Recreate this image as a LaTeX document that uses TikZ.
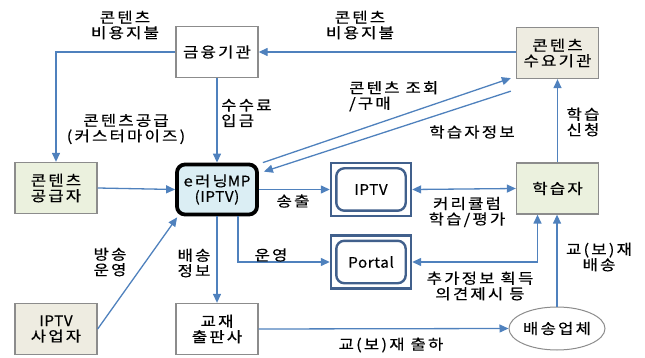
\documentclass[tikz,border=0pt]{standalone}
\usepackage{fontspec}
\setmainfont[LetterSpace=15,FakeBold=0.4,FakeStretch=1.15]{Noto Sans CJK KR}
\newfontfamily\latinf[LetterSpace=4,FakeBold=0.4,FakeStretch=1.05]{Noto Sans CJK KR}
\usetikzlibrary{arrows.meta,shapes.geometric}
\definecolor{lineblue}{HTML}{4F81BD}
\definecolor{boxgray}{HTML}{8C8C8C}
\definecolor{beige}{HTML}{EEECE1}
\definecolor{greenish}{HTML}{EBF1DE}
\definecolor{mpblue}{HTML}{DBEEF4}
\definecolor{frameblue}{HTML}{41608C}
\newcommand{\fs}{\fontsize{14.5}{15.5}\selectfont}
\begin{document}
\begin{tikzpicture}[x=1pt,y=-1pt,
  box/.style={draw=boxgray, line width=1.3pt, minimum width=82pt, minimum height=51pt, align=center, inner sep=1pt, font=\fs},
  mpbox/.style={draw=black, line width=3.8pt, rounded corners=8pt, fill=mpblue, minimum width=80pt, minimum height=50pt, align=center, inner sep=1pt, font=\fs},
  frame/.style={draw=frameblue, line width=2.4pt, minimum width=80pt, minimum height=53pt, font=\fs, inner sep=1pt},
  inframe/.style={draw=frameblue, line width=2.4pt, rounded corners=8pt, fill=white},
  lab/.style={align=center, font=\fs, inner sep=0pt},
  conn/.style={draw=lineblue, line width=1.3pt},
  arr/.style={conn, -{Triangle[length=9pt,width=8pt]}},
  barr/.style={conn, {Triangle[length=9pt,width=8pt]}-{Triangle[length=9pt,width=8pt]}},
]
\useasboundingbox (0,0) rectangle (645,358);

% nodes
\node[box, fill=white] (fin) at (217,52) {금융기관};
\node[box, fill=beige] (dem) at (557.5,53) {콘텐츠\\수요기관};
\node[box, fill=greenish] (sup) at (56,188) {콘텐츠\\공급자};
\node[mpbox] (mp) at (217,189.5) {e러닝{\latinf MP}\\{\latinf (IPTV)}};
\node[frame] (iptv) at (371,189.5) {};
\draw[inframe] ([shift={(6.5,6.5)}]iptv.north west) rectangle ([shift={(-6.5,-6.5)}]iptv.south east);
\node[font=\fs\latinf] (iptvt) at (iptv.center) {IPTV};
\node[box, fill=greenish] (lrn) at (557.5,188.5) {학습자};
\node[frame] (portal) at (371,262) {};
\draw[inframe] ([shift={(6.5,6.5)}]portal.north west) rectangle ([shift={(-6.5,-6.5)}]portal.south east);
\node[font=\fs\latinf] (portalt) at (portal.center) {Portal};
\node[box, fill=beige] (ipsp) at (56,329) {{\latinf IPTV}\\사업자};
\node[box, fill=white] (pub) at (217,329) {교재\\출판사};
\node[ellipse, draw=boxgray, line width=1pt, fill=white, minimum width=83pt, minimum height=43pt, inner sep=0pt, font=\fs] (dlv) at (557,328.5) {배송업체};

% connectors
\draw[arr] (fin.east -| dem.west) -- (fin.east);
\node[lab] (l1) at (360,25) {콘텐츠\\비용지불};

\draw[arr] (fin.west) -| (sup.north);
\node[lab] (l2) at (125,25) {콘텐츠\\비용지불};

\draw[arr] (fin.south) -- (mp.north);
\node[lab, align=left, anchor=west] (l3) at (221,113) {수수료\\입금};

\draw[arr] (sup.east) -- (mp.west);
\node[lab] (l4) at (126,129) {콘텐츠공급\\(커스터마이즈)};

\draw[arr] ([shift={(4,0)}]mp.north east) -- ([shift={(-5,-1)}]dem.south west);
\node[lab, align=left, anchor=north west] (l5) at (349,81) {콘텐츠 조회\\/구매};

\draw[arr] ([shift={(-5,12)}]dem.south west) -- ([shift={(5,9)}]mp.north east);
\node[lab] (l6) at (472,132) {학습자정보};

\draw[arr] (mp.east) -- (iptv.west);
\node[lab] (l7) at (293,201) {송출};

\draw[barr] (iptv.east) -- (lrn.west);
\node[lab] (l8) at (467,212) {커리큘럼\\학습/평가};

\draw[arr] (lrn.north) -- (lrn.north |- dem.south);
\node[lab] (l9) at (583,122) {학습\\신청};

\draw[arr] (mp.south) -- (pub.north);
\node[lab] (l10) at (194,263) {배송\\정보};

\draw[arr] ([xshift=21]mp.south) |- (portal.west);
\node[lab] (l11) at (271,255) {운영};

\draw[barr] (portal.east) -| ([xshift=-20]lrn.south);
\node[lab] (l12) at (480,286) {추가정보 획득\\의견제시 등};

\draw[arr] (dlv.north) -- (dlv.north |- lrn.south);
\node[lab] (l13) at (599,257) {교(보)재\\배송};

\draw[arr] (ipsp.east) -- ([shift={(2,1)}]mp.south west);
\node[lab] (l14) at (110,262) {방송\\운영};

\draw[arr] (pub.east) -- (dlv.west);
\node[lab] (l15) at (391,345) {교(보)재 출하};
\end{tikzpicture}
\end{document}
